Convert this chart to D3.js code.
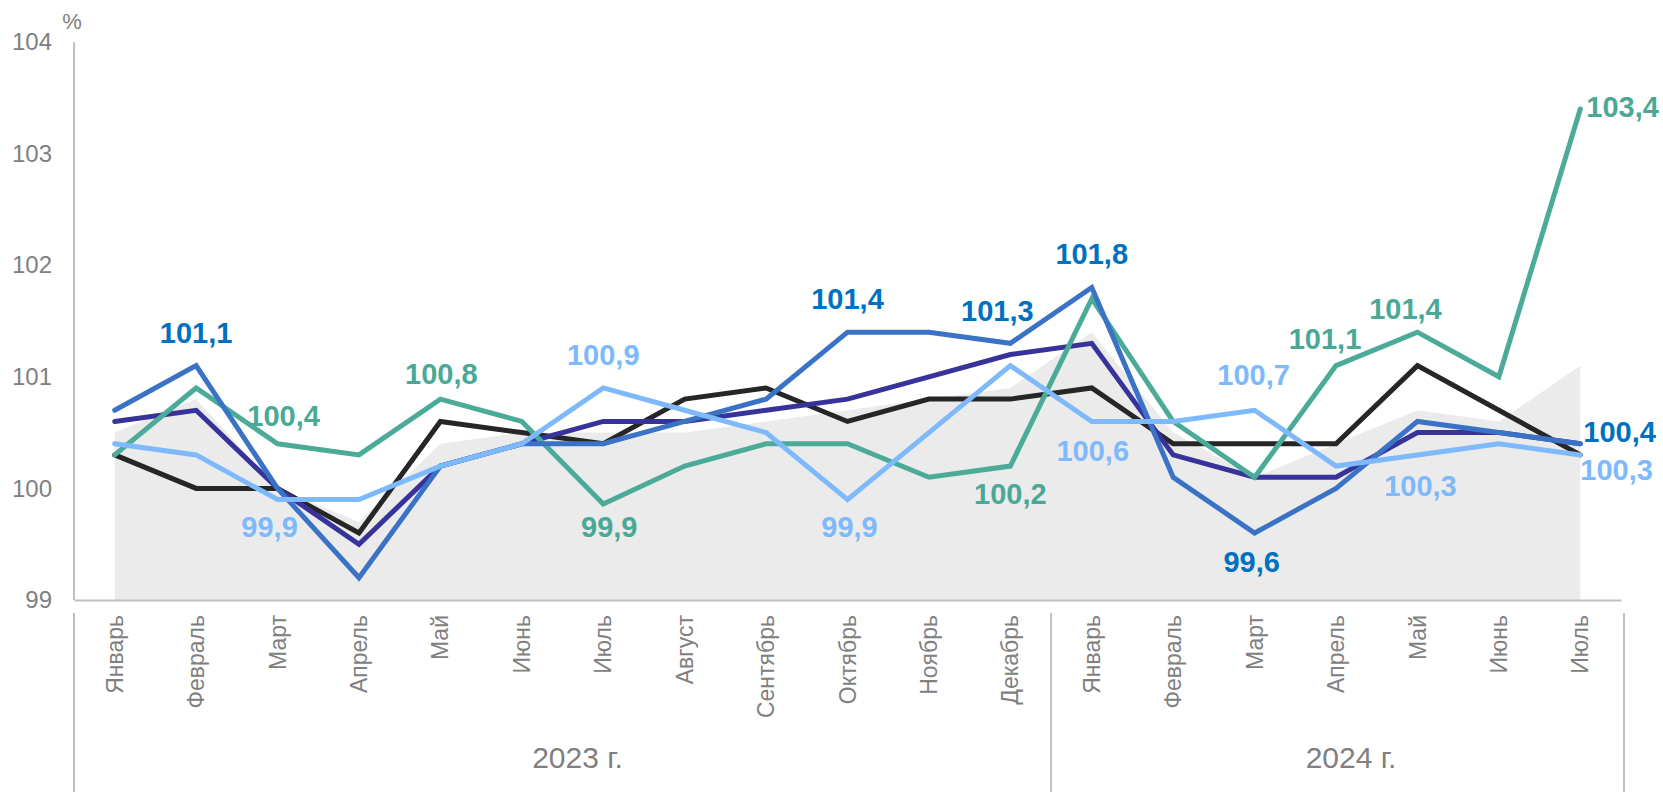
<!DOCTYPE html>
<html>
<head>
<meta charset="utf-8">
<script src="https://cdn.jsdelivr.net/npm/d3@7"></script>
<style>
  body { margin: 0; background: #fff; }
  svg { display: block; font-family: "Liberation Sans", Arial, sans-serif; }
</style>
</head>
<body>
<div id="chart"></div>
<script>
  // categories
  const months = ["Январь", "Февраль", "Март", "Апрель", "Май", "Июнь", "Июль", "Август",
      "Сентябрь", "Октябрь", "Ноябрь", "Декабрь",
      "Январь", "Февраль", "Март", "Апрель", "Май", "Июнь", "Июль"];
  const years = [{ name: "2023 г.", from: 0, to: 12 }, { name: "2024 г.", from: 12, to: 19 }];
  const yTicks = [99, 100, 101, 102, 103, 104];

  // series values (% to previous month)
  const areaGray = [100.5, 100.8, 100.0, 99.7, 100.4, 100.5, 100.5, 100.5, 100.6, 100.7, 100.8, 100.9,
      101.4, 100.5, 100.1, 100.4, 100.7, 100.6, 101.1];
  const lineBlack = [100.3, 100.0, 100.0, 99.6, 100.6, 100.5, 100.4, 100.8, 100.9, 100.6, 100.8, 100.8,
      100.9, 100.4, 100.4, 100.4, 101.1, 100.7, 100.3];
  const lineNavy = [100.6, 100.7, 100.0, 99.5, 100.2, 100.4, 100.6, 100.6, 100.7, 100.8, 101.0, 101.2,
      101.3, 100.3, 100.1, 100.1, 100.5, 100.5, 100.4];
  const lineTeal = [100.3, 100.9, 100.4, 100.3, 100.8, 100.6, 99.86, 100.2, 100.4, 100.4, 100.1, 100.2,
      101.7, 100.6, 100.1, 101.1, 101.4, 101.0, 103.4];
  const lineBlue = [100.7, 101.1, 100.0, 99.2, 100.2, 100.4, 100.4, 100.6, 100.8, 101.4, 101.4, 101.3,
      101.8, 100.1, 99.6, 100.0, 100.6, 100.5, 100.4];
  const lineLight = [100.4, 100.3, 99.9, 99.9, 100.2, 100.4, 100.9, 100.7, 100.5, 99.9, 100.5, 101.1,
      100.6, 100.6, 100.7, 100.2, 100.3, 100.4, 100.3];

  const series = [
      { values: lineBlack, color: "#262626" },
      { values: lineNavy, color: "#37339b" },
      { values: lineTeal, color: "#4bab98", label: "#4aa996" },
      { values: lineBlue, color: "#3a73c6", label: "#0070c0" },
      { values: lineLight, color: "#7db9fb", label: "#7db9fb" }
  ];

  // which points get a value label: [series index, month index, dx, dy, anchor]
  const labels = [
      [3, 1, 0, -33, "middle"], [3, 9, 0, -33, "middle"], [3, 11, -13, -32, "middle"],
      [3, 12, 0, -34, "middle"], [3, 14, -3, 29, "middle"], [3, 18, 3, -12, "start"],
      [2, 2, 6, -28, "middle"], [2, 4, 1, -25, "middle"], [2, 6, 6, 23, "middle"],
      [2, 11, 0, 28, "middle"], [2, 15, -11, -27, "middle"], [2, 16, -12, -23, "middle"],
      [2, 18, 6, -2, "start"],
      [4, 2, -8, 27, "middle"], [4, 6, 0, -33, "middle"], [4, 9, 2, 27, "middle"],
      [4, 12, 1, 29, "middle"], [4, 14, -1, -35, "middle"], [4, 16, 3, 31, "middle"],
      [4, 18, 0, 15, "start"]
  ];

  const W = 1663, H = 792;
  const margin = { left: 74, right: 1621, top: 42, bottom: 600 };

  const svg = d3.select("#chart").append("svg")
      .attr("width", W)
      .attr("height", H);

  const x = d3.scaleBand()
      .domain(months.map((d, i) => i))
      .range([margin.left, margin.right]);
  const cx = i => x(i) + x.bandwidth() / 2;

  const y = d3.scaleLinear()
      .domain([99, 104])
      .range([margin.bottom, margin.top]);

  // gray background area
  const area = d3.area()
      .x((d, i) => cx(i))
      .y0(y(99))
      .y1(d => y(d));
  svg.append("path")
      .datum(areaGray)
      .attr("d", area)
      .attr("fill", "#ebebeb");

  // y axis
  const yAxis = svg.append("g")
      .attr("transform", `translate(${margin.left},0)`)
      .call(d3.axisLeft(y).tickValues(yTicks).tickSize(0).tickPadding(22).tickFormat(d3.format("d")));
  yAxis.select(".domain").remove();
  yAxis.selectAll("text")
      .attr("fill", "#808080")
      .style("font-size", "24px");
  svg.append("line")
      .attr("x1", margin.left).attr("x2", margin.left)
      .attr("y1", margin.top).attr("y2", margin.bottom)
      .attr("stroke", "#bfbfbf")
      .attr("stroke-width", 2);
  svg.append("text")
      .attr("x", 72).attr("y", 21)
      .attr("dy", "0.35em")
      .attr("text-anchor", "middle")
      .attr("fill", "#808080")
      .style("font-size", "22px")
      .text("%");

  // x axis
  const xAxis = svg.append("g")
      .attr("transform", `translate(0,${margin.bottom})`)
      .call(d3.axisBottom(x).tickSize(0).tickSizeOuter(0).tickFormat(i => months[i]));
  xAxis.select(".domain")
      .attr("stroke", "#bfbfbf")
      .attr("stroke-width", 2);
  xAxis.selectAll("text")
      .attr("transform", "rotate(-90)")
      .attr("x", -15)
      .attr("y", 0)
      .attr("dy", "0.35em")
      .attr("text-anchor", "end")
      .attr("fill", "#808080")
      .style("font-size", "23px");

  // year group separators and labels
  const seps = [0, 12, 19].map(i => i < months.length ? x(i) : margin.right + 3);
  svg.selectAll(".sep")
      .data(seps)
      .enter().append("line")
      .attr("x1", d => d).attr("x2", d => d)
      .attr("y1", 613).attr("y2", H)
      .attr("stroke", "#bfbfbf")
      .attr("stroke-width", 2);
  svg.selectAll(".year")
      .data(years)
      .enter().append("text")
      .attr("x", d => (x(d.from) + (d.to < months.length ? x(d.to) : margin.right)) / 2 + 15)
      .attr("y", 757)
      .attr("dy", "0.35em")
      .attr("text-anchor", "middle")
      .attr("fill", "#808080")
      .style("font-size", "30px")
      .text(d => d.name);

  // lines
  const line = d3.line()
      .x((d, i) => cx(i))
      .y(d => y(d));
  svg.selectAll(".series")
      .data(series)
      .enter().append("path")
      .attr("d", d => line(d.values))
      .attr("fill", "none")
      .attr("stroke", d => d.color)
      .attr("stroke-width", 5)
      .attr("stroke-linecap", "round")
      .attr("stroke-linejoin", "miter");

  // value labels
  const fmt = v => d3.format(".1f")(v).replace(".", ",");
  svg.selectAll(".vlabel")
      .data(labels)
      .enter().append("text")
      .attr("x", d => cx(d[1]) + d[2])
      .attr("y", d => y(series[d[0]].values[d[1]]) + d[3])
      .attr("dy", "0.35em")
      .attr("text-anchor", d => d[4])
      .attr("fill", d => series[d[0]].label)
      .style("font-size", "29px")
      .style("font-weight", "bold")
      .text(d => fmt(series[d[0]].values[d[1]]));
</script>
</body>
</html>
